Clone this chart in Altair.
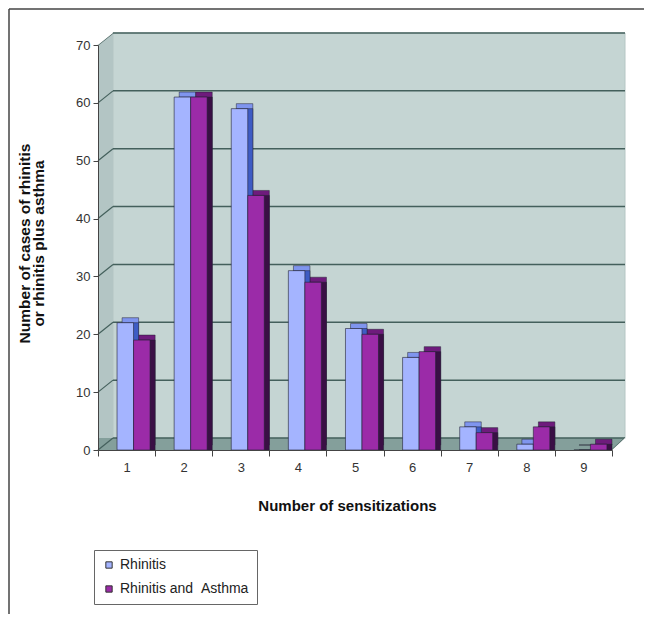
import altair as alt
import pandas as pd

categories = [1, 2, 3, 4, 5, 6, 7, 8, 9]
rhinitis = [22, 61, 59, 31, 21, 16, 4, 1, 0]
rhinitis_asthma = [19, 61, 44, 29, 20, 17, 3, 4, 1]
series_names = ["Rhinitis", "Rhinitis and  Asthma"]
y_ticks = [0, 10, 20, 30, 40, 50, 60, 70]

front_colors = ["#a4b4ff", "#9b2ba8"]
top_colors = ["#7f95ee", "#6e1b7c"]
side_colors = ["#3e5cc4", "#3a0f45"]

rows = []
for c, a, b in zip(categories, rhinitis, rhinitis_asthma):
    rows.append({"n": c, "series": series_names[0], "v": a})
    rows.append({"n": c, "series": series_names[1], "v": b})
df = pd.DataFrame(rows)
grid_df = pd.DataFrame({"t": y_ticks})
wall_df = pd.DataFrame({"lo": [y_ticks[0]], "hi": [y_ticks[-1]]})
dummy = pd.DataFrame({"k": [0]})

W, H = 514, 405
FONT = "Liberation Sans"
DEPTH_Y = -12

yscale = alt.Scale(domain=[0, 70], nice=False)
y_axis = alt.Axis(
    title=["Number of cases of rhinitis", "or rhinitis plus asthma"],
    values=y_ticks, tickSize=5, labelPadding=3, labelFont=FONT,
    labelFontSize=13, labelColor="#333", domainColor="#444",
    tickColor="#444", titleFont=FONT, titleFontSize=15.5,
    titleFontWeight="bold", titleColor="#111", titleX=-74, titleY=198,
    titleAlign="center", titleBaseline="middle", titleLineHeight=14,
    grid=False, zindex=1,
)

x_enc = alt.X(
    "n:O",
    scale=alt.Scale(paddingInner=0, paddingOuter=0),
    axis=alt.Axis(
        title="Number of sensitizations", labelAngle=0, tickBand="extent",
        tickSize=6, labelPadding=5, labelFont=FONT, labelFontSize=13,
        labelColor="#333", domainColor="#444", tickColor="#444",
        titleFont=FONT, titleFontSize=15, titleFontWeight="bold",
        titleColor="#111", titlePadding=24, titleX=249, zindex=1,
    ),
)


def xo_enc(align):
    return alt.XOffset(
        "series:N",
        scale=alt.Scale(domain=series_names, paddingInner=0,
                        paddingOuter=0.73, align=align),
    )


y_enc = alt.Y("v:Q", scale=yscale, axis=y_axis)

base_bg = alt.Chart(wall_df)

frame_top = alt.Chart(dummy).mark_rule(color="#444", strokeWidth=1.5).encode(
    x=alt.value(-89), x2=alt.value(546), y=alt.value(-36))
frame_left = alt.Chart(dummy).mark_rule(color="#444", strokeWidth=1.5).encode(
    x=alt.value(-89), y=alt.value(-36), y2=alt.value(569))

back_wall = base_bg.mark_rect(color="#c5d5d3", stroke="#b5c6c4", strokeWidth=1,
                              yOffset=DEPTH_Y, y2Offset=DEPTH_Y).encode(
    x=alt.value(15), x2=alt.value(527),
    y=alt.Y("lo:Q", scale=yscale, axis=y_axis), y2="hi:Q")
left_wall = base_bg.mark_rect(color="#b3c5c4", y2Offset=DEPTH_Y).encode(
    x=alt.value(0), x2=alt.value(15),
    y=alt.Y("lo:Q", scale=yscale, axis=y_axis), y2="hi:Q")
floor = base_bg.mark_rect(color="#849f9b", y2Offset=DEPTH_Y).encode(
    x=alt.value(0), x2=alt.value(527),
    y=alt.Y("lo:Q", scale=yscale, axis=y_axis), y2="lo:Q")

grid_back = alt.Chart(grid_df).mark_rule(color="#44605c", strokeWidth=1.5, yOffset=DEPTH_Y).encode(
    x=alt.value(15), x2=alt.value(527),
    y=alt.Y("t:Q", scale=yscale, axis=y_axis))
grid_diag = alt.Chart(grid_df).mark_rule(color="#44605c", strokeWidth=1.2, y2Offset=DEPTH_Y).encode(
    x=alt.value(0), x2=alt.value(15),
    y=alt.Y("t:Q", scale=yscale, axis=y_axis), y2="t:Q")
floor_diag = base_bg.mark_rule(color="#44605c", strokeWidth=1.2, y2Offset=DEPTH_Y).encode(
    x=alt.value(514), x2=alt.value(527),
    y=alt.Y("lo:Q", scale=yscale, axis=y_axis), y2="lo:Q")

cut_tl = alt.Chart(dummy).mark_rule(color="white", strokeWidth=10, strokeCap="butt").encode(
    x=alt.value(-3.1), y=alt.value(-3.9), x2=alt.value(11.9), y2=alt.value(-15.9))
cut_br = alt.Chart(dummy).mark_rule(color="white", strokeWidth=10, strokeCap="butt").encode(
    x=alt.value(517.4), y=alt.value(408.7), x2=alt.value(530.4), y2=alt.value(396.7))

FRONT_ALIGN = 0.79
DEPTH_ALIGN = 1.0

bars_base = alt.Chart(df)
depth_layers = []
for i, s in enumerate(series_names):
    depth_layers.append(
        bars_base.transform_filter(alt.datum.series == s).mark_bar(
            color=top_colors[i], stroke="#222233", strokeWidth=0.5,
            yOffset=-5).encode(
            x=x_enc, xOffset=xo_enc(DEPTH_ALIGN), y=y_enc))
for i, s in enumerate(series_names):
    depth_layers.append(
        bars_base.transform_filter(alt.datum.series == s).mark_bar(
            color=side_colors[i], stroke="#222233", strokeWidth=0.5).encode(
            x=x_enc, xOffset=xo_enc(DEPTH_ALIGN), y=y_enc))

front = bars_base.mark_bar(stroke="#222233", strokeWidth=0.6).encode(
    x=x_enc, xOffset=xo_enc(FRONT_ALIGN), y=y_enc,
    color=alt.Color(
        "series:N",
        scale=alt.Scale(domain=series_names, range=front_colors),
        legend=alt.Legend(
            title=None, orient="none", legendX=-4, legendY=505,
            direction="vertical", fillColor="white", strokeColor="#666",
            padding=8, rowPadding=10, symbolType="square", symbolSize=40,
            symbolStrokeColor="#333", symbolStrokeWidth=1, labelFont=FONT,
            labelFontSize=14, labelColor="#222",
            labelExpr="replace(datum.label, '  ', ' \u00a0')",
        ),
    ),
)

chart = alt.layer(
    frame_top, frame_left, back_wall, left_wall, floor, grid_back, grid_diag,
    floor_diag, cut_tl, cut_br, *depth_layers, front,
).resolve_scale(xOffset="independent").properties(
    width=W, height=H,
    autosize=alt.AutoSizeParams(type="none"),
    padding={"left": 90, "top": 37, "right": 32, "bottom": 164},
).configure_view(stroke=None).configure(background="white")

chart.save("out.html", embed_options={"renderer": "svg", "actions": False})
